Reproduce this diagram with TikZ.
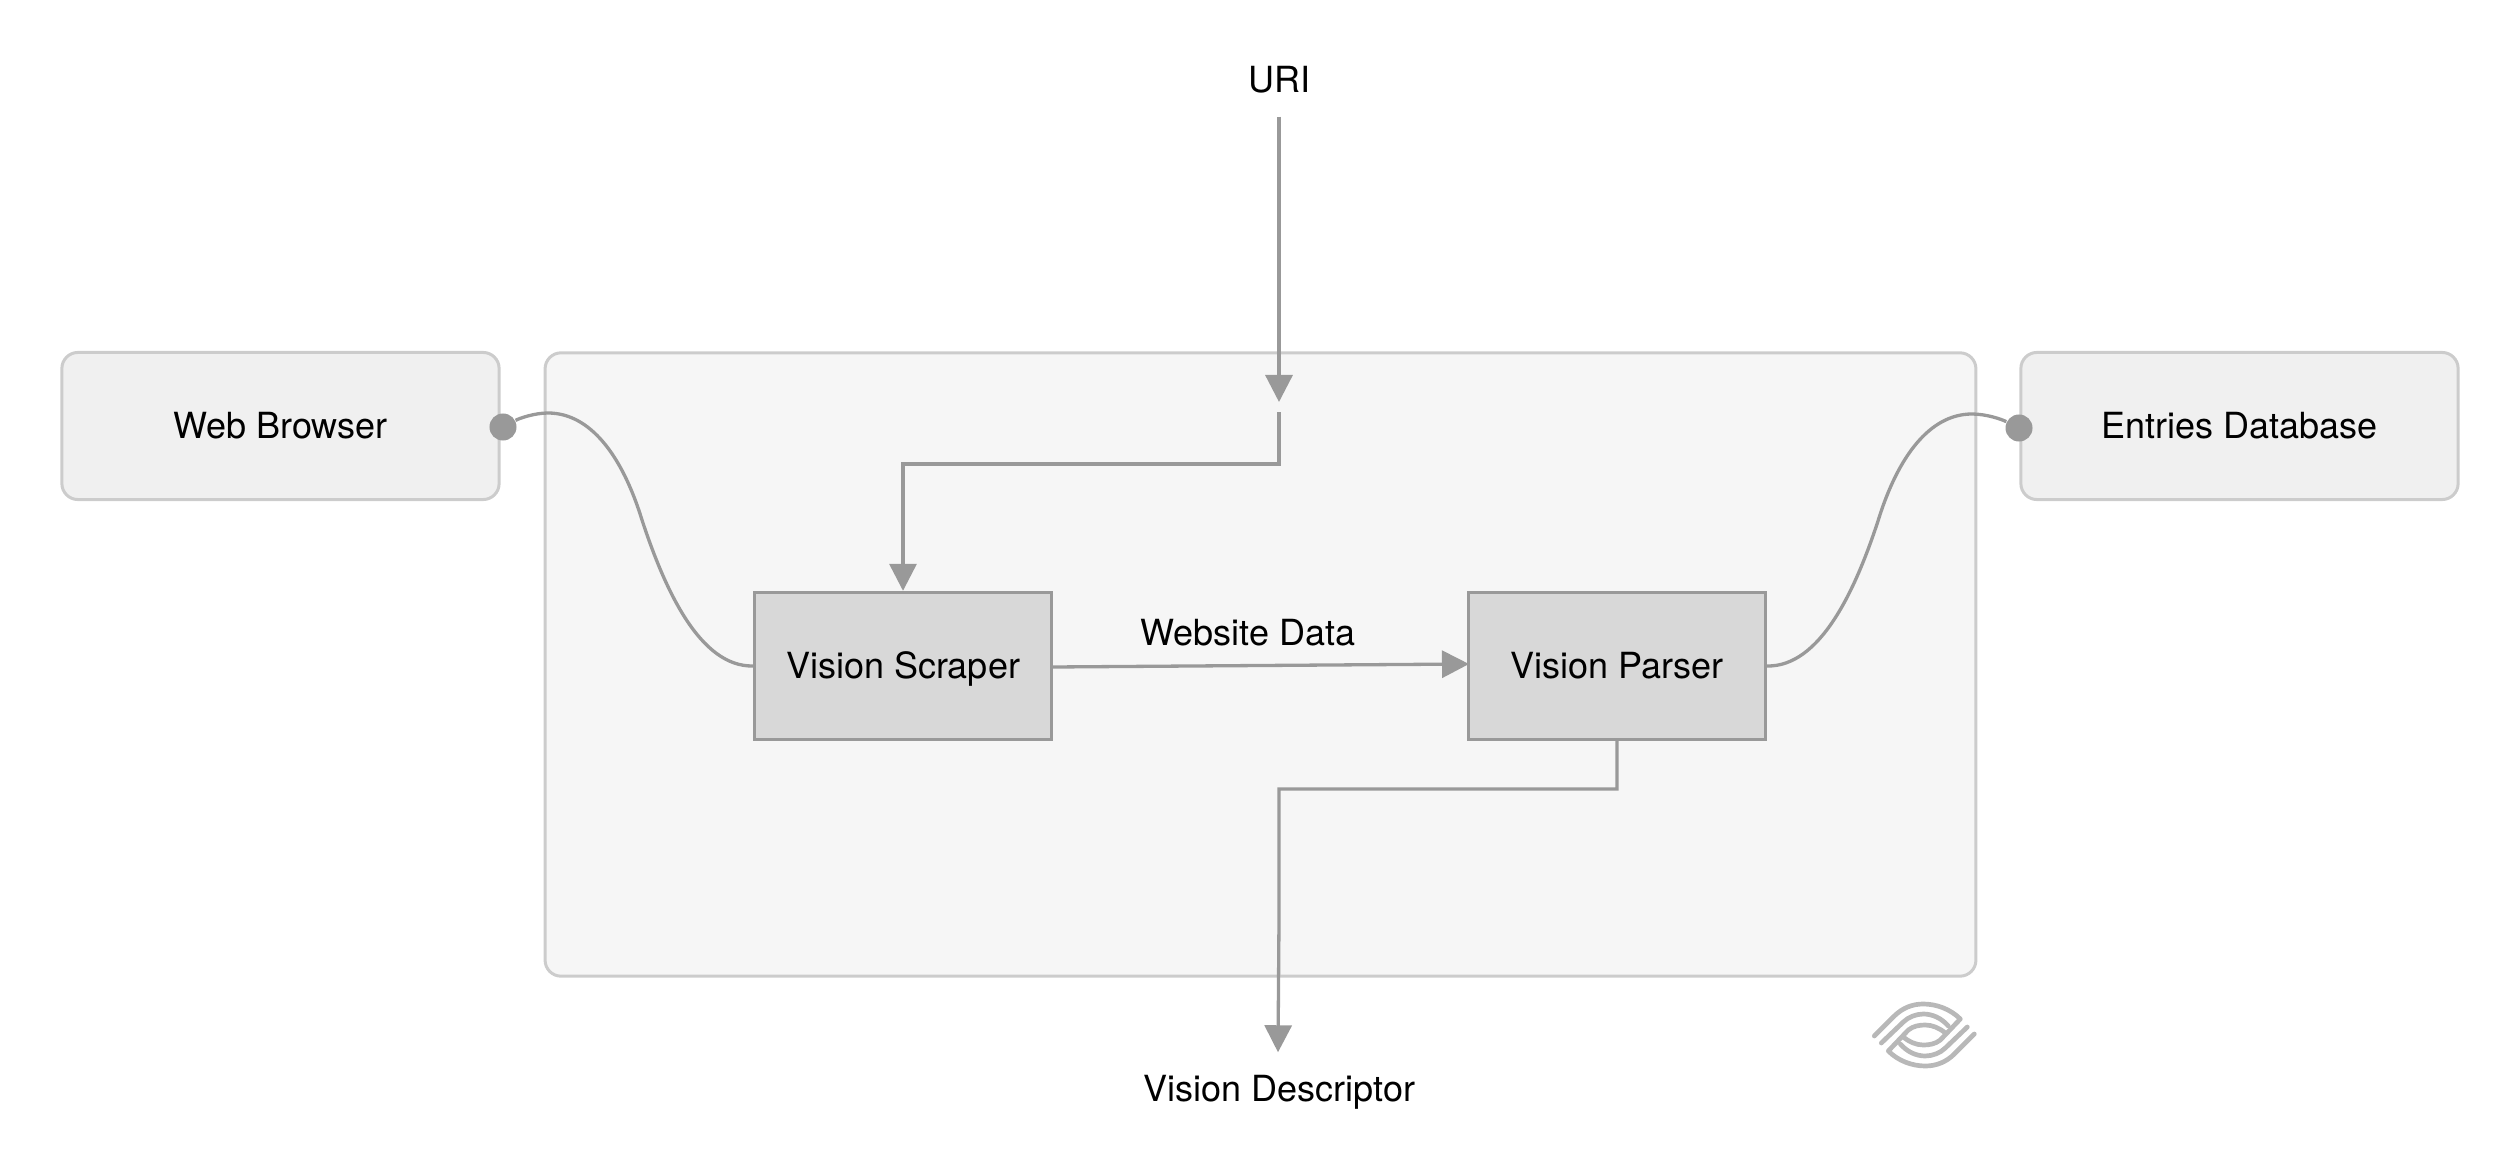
\documentclass[tikz,border=0pt]{standalone}
\usepackage{fontspec}
\setmainfont{TeX Gyre Heros}
\usetikzlibrary{
  arrows.meta
}
\definecolor{linegray}{HTML}{999999}
\definecolor{framegray}{HTML}{CCCCCC}
\definecolor{logogray}{HTML}{B8B8B8}
\definecolor{outerfill}{HTML}{F0F0F0}
\definecolor{groupfill}{HTML}{F6F6F6}
\definecolor{innerfill}{HTML}{D8D8D8}
\tikzset{
  label text/.style={font=\fontsize{10.24}{12}\selectfont,text height=.25cm,text depth=0cm,inner sep=0pt},
  outer box/.style={label text,draw=framegray,fill=outerfill,line width=.03cm,rounded corners=.16cm,minimum width=4.37cm,minimum height=1.47cm},
  group box/.style={draw=framegray,fill=groupfill,line width=.03cm,rounded corners=.16cm,minimum width=14.30cm,minimum height=6.23cm,inner sep=0pt},
  inner box/.style={label text,draw=linegray,fill=innerfill,line width=.033cm,minimum width=2.965cm,minimum height=1.47cm},
  end label/.style={label text,minimum height=.72cm},
  port/.style={circle,fill=linegray,inner sep=0pt,minimum size=.27cm},
  link/.style={draw=linegray,line width=.033cm},
  flow/.style={link,-{Triangle[length=.27cm,width=.27cm]}},
  eye stroke/.style={draw=logogray,line width=.047cm,line cap=round,line join=round}
}
\begin{document}
\begin{tikzpicture}[x=.01cm,y=-.01cm]
\useasboundingbox (0,0) rectangle (2520,1170);
\node[group box] (vision) at (1260.5,664.5) {};
\node[outer box] (browser) at (280.5,426) {Web Browser};
\node[outer box] (entries) at (2239.5,426) {Entries Database};
\node[inner box] (scraper) at (903,666) {Vision Scraper};
\node[inner box] (parser) at (1617,666) {Vision Parser};
\node[end label] (uri) at (1279,80) {URI};
\node[end label] (descriptor) at (1279.5,1089) {Vision Descriptor};
\node[label text] (data) at (1248,633) {Website Data};
\node[port] (browserport) at (503,427) {};
\node[port] (entriesport) at (2019,428) {};
\coordinate (gatein) at (1279,402);
\coordinate (gateout) at (1279,412);
\coordinate (parserin) at (1469,664);
% requests coming in from the top
\draw[flow] (uri) -- (gatein);
\draw[flow] (gateout) -- (1279,464) -| (scraper);
\draw[flow] ([yshift=-.01cm]scraper.east) -- (parserin);
\draw[flow] (parser) |- (1279,789) -- (1279,920) -- ([xshift=-.015cm]descriptor.north);
% curved links to the outer boxes
\draw[link] (browserport) .. controls (520,418) and (535,413) .. (548,413)
  .. controls (590,413) and (622,455) .. (642,520)
  .. controls (665,590) and (700,667) .. (scraper.west);
\draw[link] (entriesport) .. controls (2001,419) and (1986,414) .. (1972,414)
  .. controls (1930,414) and (1898,456) .. (1878,521)
  .. controls (1855,591) and (1820,667) .. (parser.east);
% logo
\foreach \ang in {0,180} {
  \begin{scope}[shift={(1924.3,1035)},rotate=\ang]
    \draw[eye stroke] (-50,1) -- (-30,-19) .. controls (-22,-27) and (-12,-31) .. (-1,-31)
      .. controls (12,-31) and (26,-26) .. (36,-16) -- (16,5)
      .. controls (11,9) and (5,10) .. (-1,10) .. controls (-8,10) and (-15,7) .. (-21,2);
    \draw[eye stroke] (-43,8) -- (-21,-13) .. controls (-16,-18) and (-8,-21) .. (-1,-21)
      .. controls (8,-21) and (17,-17) .. (24,-9);
  \end{scope}
}
\end{tikzpicture}
\end{document}
